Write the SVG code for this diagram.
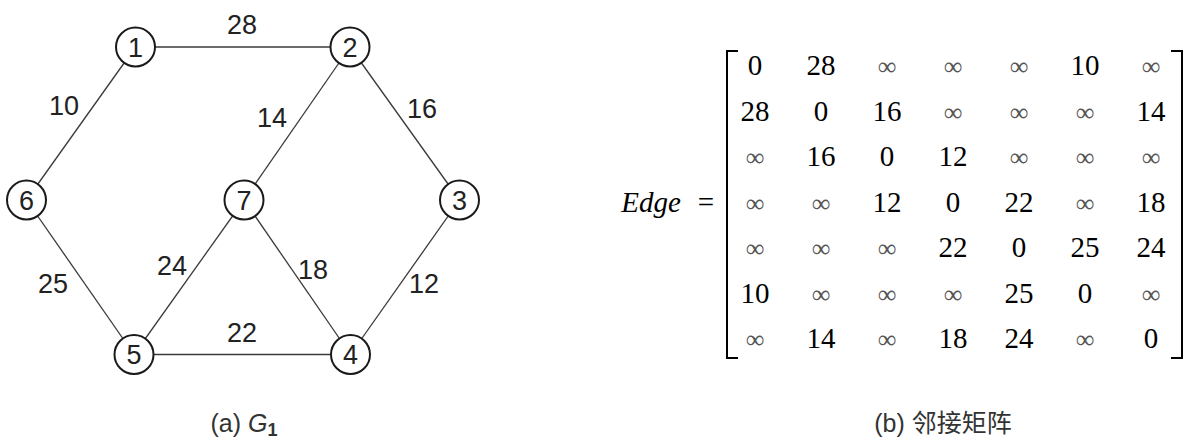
<svg xmlns="http://www.w3.org/2000/svg" width="1194" height="447" viewBox="0 0 1194 447">
<style>
.edge{stroke:#3a3a3a;stroke-width:1.3;fill:none}
.node circle{fill:#fff;stroke:#1a1a1a;stroke-width:2}
.node text,.wl{font-family:"Liberation Sans",Arial,sans-serif;font-size:27px;fill:#222;text-anchor:middle}
.cap{font-family:"Liberation Sans",Arial,"Noto Sans CJK SC",sans-serif;font-size:25px;fill:#333;text-anchor:middle}
.m{font-family:"Liberation Serif","Times New Roman",serif;font-size:29px;fill:#000;text-anchor:middle}
.inf{font-family:"Liberation Serif","Times New Roman",serif;font-size:26px;fill:#555;text-anchor:middle}
.br{stroke:#000;stroke-width:2;fill:none}
</style>
<rect width="1194" height="447" fill="#fff"/>
<g id="connectors">
<line class="edge" x1="135.5" y1="47" x2="350" y2="47"/>
<line class="edge" x1="135.5" y1="47" x2="26.5" y2="200"/>
<line class="edge" x1="350" y1="47" x2="244" y2="200"/>
<line class="edge" x1="350" y1="47" x2="459.5" y2="200"/>
<line class="edge" x1="26.5" y1="200" x2="134" y2="354.5"/>
<line class="edge" x1="244" y1="200" x2="134" y2="354.5"/>
<line class="edge" x1="244" y1="200" x2="350.5" y2="354.5"/>
<line class="edge" x1="459.5" y1="200" x2="350.5" y2="354.5"/>
<line class="edge" x1="134" y1="354.5" x2="350.5" y2="354.5"/>
</g>
<g id="weights">
<text class="wl" x="242" y="34">28</text>
<text class="wl" x="64" y="115">10</text>
<text class="wl" x="272" y="127">14</text>
<text class="wl" x="422" y="118">16</text>
<text class="wl" x="53" y="293">25</text>
<text class="wl" x="172" y="275">24</text>
<text class="wl" x="313" y="279">18</text>
<text class="wl" x="424" y="293">12</text>
<text class="wl" x="242" y="342">22</text>
</g>
<g id="n1" class="node"><circle cx="135.5" cy="47" r="19.5"/><text x="135.5" y="56.5">1</text></g>
<g id="n2" class="node"><circle cx="350" cy="47" r="19.5"/><text x="350" y="56.5">2</text></g>
<g id="n3" class="node"><circle cx="459.5" cy="200" r="19.5"/><text x="459.5" y="209.5">3</text></g>
<g id="n4" class="node"><circle cx="350.5" cy="354.5" r="19.5"/><text x="350.5" y="364">4</text></g>
<g id="n5" class="node"><circle cx="134" cy="354.5" r="19.5"/><text x="134" y="364">5</text></g>
<g id="n6" class="node"><circle cx="26.5" cy="200" r="19.5"/><text x="26.5" y="209.5">6</text></g>
<g id="n7" class="node"><circle cx="244" cy="200" r="19.5"/><text x="244" y="209.5">7</text></g>
<text class="cap" x="244" y="432">(a) <tspan font-style="italic">G</tspan><tspan font-size="18" font-weight="bold" dy="4">1</tspan></text>
<g id="matrix">
<text class="m" x="651" y="212" font-style="italic">Edge</text>
<text class="m" x="706" y="212">=</text>
<path class="br" d="M738,51 H727 V358 H738"/>
<path class="br" d="M1171,51 H1182 V358 H1171"/>
<g id="r1">
<text class="m" x="755" y="75">0</text><text class="m" x="821" y="75">28</text><text class="inf" x="887" y="75">∞</text><text class="inf" x="953" y="75">∞</text><text class="inf" x="1019" y="75">∞</text><text class="m" x="1085" y="75">10</text><text class="inf" x="1151" y="75">∞</text>
</g>
<g id="r2">
<text class="m" x="755" y="120.5">28</text><text class="m" x="821" y="120.5">0</text><text class="m" x="887" y="120.5">16</text><text class="inf" x="953" y="120.5">∞</text><text class="inf" x="1019" y="120.5">∞</text><text class="inf" x="1085" y="120.5">∞</text><text class="m" x="1151" y="120.5">14</text>
</g>
<g id="r3">
<text class="inf" x="755" y="166">∞</text><text class="m" x="821" y="166">16</text><text class="m" x="887" y="166">0</text><text class="m" x="953" y="166">12</text><text class="inf" x="1019" y="166">∞</text><text class="inf" x="1085" y="166">∞</text><text class="inf" x="1151" y="166">∞</text>
</g>
<g id="r4">
<text class="inf" x="755" y="211.5">∞</text><text class="inf" x="821" y="211.5">∞</text><text class="m" x="887" y="211.5">12</text><text class="m" x="953" y="211.5">0</text><text class="m" x="1019" y="211.5">22</text><text class="inf" x="1085" y="211.5">∞</text><text class="m" x="1151" y="211.5">18</text>
</g>
<g id="r5">
<text class="inf" x="755" y="257">∞</text><text class="inf" x="821" y="257">∞</text><text class="inf" x="887" y="257">∞</text><text class="m" x="953" y="257">22</text><text class="m" x="1019" y="257">0</text><text class="m" x="1085" y="257">25</text><text class="m" x="1151" y="257">24</text>
</g>
<g id="r6">
<text class="m" x="755" y="302.5">10</text><text class="inf" x="821" y="302.5">∞</text><text class="inf" x="887" y="302.5">∞</text><text class="inf" x="953" y="302.5">∞</text><text class="m" x="1019" y="302.5">25</text><text class="m" x="1085" y="302.5">0</text><text class="inf" x="1151" y="302.5">∞</text>
</g>
<g id="r7">
<text class="inf" x="755" y="348">∞</text><text class="m" x="821" y="348">14</text><text class="inf" x="887" y="348">∞</text><text class="m" x="953" y="348">18</text><text class="m" x="1019" y="348">24</text><text class="inf" x="1085" y="348">∞</text><text class="m" x="1151" y="348">0</text>
</g>
</g>
<text class="cap" x="943" y="432">(b) 邻接矩阵</text>
</svg>
